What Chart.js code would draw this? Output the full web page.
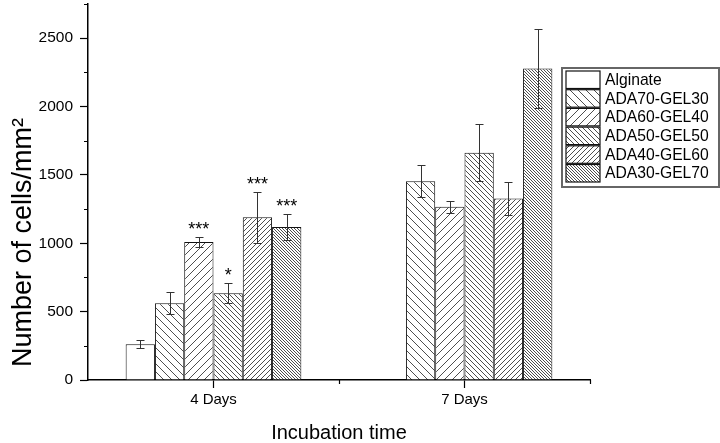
<!DOCTYPE html>
<html><head><meta charset="utf-8">
<script src="https://cdn.jsdelivr.net/npm/chart.js@4/dist/chart.umd.min.js"></script>
<style>html,body{margin:0;padding:0;background:#fff;}canvas{display:block;}</style>
</head><body>
<canvas id="c" width="720" height="443"></canvas>
<script>
// ---------- data ----------
const categories = ['4 Days', '7 Days'];
const seriesNames = ['Alginate', 'ADA70-GEL30', 'ADA60-GEL40', 'ADA50-GEL50', 'ADA40-GEL60', 'ADA30-GEL70'];
const alginate = [262, null];
const ada70gel30 = [562, 1454];
const ada60gel40 = [1009, 1268];
const ada50gel50 = [635, 1662];
const ada40gel60 = [1190, 1327];
const ada30gel70 = [1119, 2278];
const alginateErr = [30, null];
const ada70gel30Err = [78, 115];
const ada60gel40Err = [38, 44];
const ada50gel50Err = [73, 210];
const ada40gel60Err = [187, 120];
const ada30gel70Err = [92, 287];
const alginateSig = ['', ''];
const ada70gel30Sig = ['', ''];
const ada60gel40Sig = ['***', ''];
const ada50gel50Sig = ['*', ''];
const ada40gel60Sig = ['***', ''];
const ada30gel70Sig = ['***', ''];
const yTicks = [0, 500, 1000, 1500, 2000, 2500];
const yMinorTicks = [250, 750, 1250, 1750, 2250, 2750];
const yMax = 2750;
const xTitle = 'Incubation time';
const yTitle = 'Number of cells/mm\u00B2';

const FONT = '"Liberation Sans", Arial, Helvetica, sans-serif';

// ---------- hatch patterns ----------
function makePattern(dir, s) {
  const t = document.createElement('canvas');
  t.width = s; t.height = s;
  const g = t.getContext('2d');
  g.fillStyle = '#fff';
  g.fillRect(0, 0, s, s);
  if (dir) {
    g.strokeStyle = '#3a3a3a';
    g.lineWidth = 0.9;
    g.beginPath();
    for (let k = -1; k <= 1; k++) {
      if (dir === '\\') { g.moveTo(k * s, 0); g.lineTo(k * s + s, s); }
      else { g.moveTo(k * s, s); g.lineTo(k * s + s, 0); }
    }
    g.stroke();
  }
  return g.createPattern(t, 'repeat');
}
const fills = [
  '#ffffff',
  makePattern('\\', 8),
  makePattern('/', 8),
  makePattern('\\', 5),
  makePattern('/', 5),
  makePattern('\\', 3)
];

const values = [alginate, ada70gel30, ada60gel40, ada50gel50, ada40gel60, ada30gel70];
const errors = [alginateErr, ada70gel30Err, ada60gel40Err, ada50gel50Err, ada40gel60Err, ada30gel70Err];
const sigs = [alginateSig, ada70gel30Sig, ada60gel40Sig, ada50gel50Sig, ada40gel60Sig, ada30gel70Sig];

const datasets = seriesNames.map((n, i) => ({
  label: n,
  data: values[i],
  backgroundColor: fills[i],
  borderColor: '#111',
  borderWidth: 1,
  borderSkipped: 'bottom',
  categoryPercentage: 0.7,
  barPercentage: 1.0
}));

// ---------- plugins ----------
const extras = {
  id: 'extras',
  afterDatasetsDraw(chart) {
    const ctx = chart.ctx;
    const y = chart.scales.y;
    ctx.save();
    // error bars + significance
    datasets.forEach((ds, i) => {
      const meta = chart.getDatasetMeta(i);
      meta.data.forEach((bar, j) => {
        const v = values[i][j], e = errors[i][j];
        if (v == null || e == null) return;
        const yt = Math.round(y.getPixelForValue(v + e)) + 0.5;
        const yb = Math.round(y.getPixelForValue(v - e)) + 0.5;
        const x = Math.round(bar.x) + 0.5;
        ctx.strokeStyle = '#333';
        ctx.lineWidth = 1;
        ctx.beginPath();
        ctx.moveTo(x, yt); ctx.lineTo(x, yb);
        ctx.moveTo(x - 4, yt); ctx.lineTo(x + 4, yt);
        ctx.moveTo(x - 4, yb); ctx.lineTo(x + 4, yb);
        ctx.stroke();
        const s = sigs[i][j];
        if (s) {
          ctx.fillStyle = '#000';
          ctx.font = '18px ' + FONT;
          ctx.textAlign = 'center';
          ctx.textBaseline = 'alphabetic';
          ctx.fillText(s, bar.x, yt - 3);
        }
      });
    });
    ctx.restore();
  },
  afterDraw(chart) {
    const ctx = chart.ctx;
    const x = chart.scales.x, y = chart.scales.y;
    const ca = chart.chartArea;
    ctx.save();
    // minor y ticks
    ctx.strokeStyle = '#000';
    ctx.lineWidth = 1.2;
    ctx.beginPath();
    yMinorTicks.forEach(v => {
      const py = Math.round(y.getPixelForValue(v)) + 0.5;
      ctx.moveTo(ca.left - 4, py); ctx.lineTo(ca.left, py);
    });
    // x boundary ticks
    const step = x.getPixelForValue(1) - x.getPixelForValue(0);
    for (let k = 1; k <= categories.length; k++) {
      const px = Math.round(x.getPixelForValue(k - 1) + step / 2) + 0.5;
      ctx.moveTo(px, ca.bottom); ctx.lineTo(px, ca.bottom + 4);
    }
    ctx.stroke();

    // axis titles
    ctx.fillStyle = '#000';
    ctx.font = '20px ' + FONT;
    ctx.textAlign = 'center';
    ctx.textBaseline = 'alphabetic';
    ctx.fillText(xTitle, (ca.left + ca.right) / 2, 439);
    ctx.save();
    ctx.translate(31, 367);
    ctx.rotate(-Math.PI / 2);
    ctx.font = '27px ' + FONT;
    ctx.textAlign = 'left';
    ctx.fillText(yTitle, 0, 0);
    ctx.restore();

    // legend
    const lx = 562, ly = 68, lw = 157, lh = 119;
    ctx.strokeStyle = '#666';
    ctx.lineWidth = 2;
    ctx.strokeRect(lx, ly, lw, lh);
    datasets.forEach((ds, i) => {
      const sy = 71 + i * 18.7;
      ctx.fillStyle = ds.backgroundColor;
      ctx.fillRect(566, sy, 34, 17.5);
      ctx.strokeStyle = '#111';
      ctx.lineWidth = 1.2;
      ctx.strokeRect(566, sy, 34, 17.5);
      ctx.fillStyle = '#000';
      ctx.font = '15.7px ' + FONT;
      ctx.textAlign = 'left';
      ctx.textBaseline = 'middle';
      ctx.fillText(ds.label, 605, sy + 9.5);
    });
    ctx.restore();
  }
};

new Chart(document.getElementById('c'), {
  type: 'bar',
  data: { labels: categories, datasets },
  options: {
    responsive: false,
    animation: false,
    devicePixelRatio: 1,
    layout: { padding: { left: 0, right: 130, top: 4, bottom: 0 } },
    plugins: { legend: { display: false }, tooltip: { enabled: false } },
    scales: {
      x: {
        offset: true,
        grid: { display: true, drawOnChartArea: false, offset: false, tickLength: 8, tickColor: '#000', tickWidth: 1.2 },
        border: { display: true, color: '#000', width: 1.5 },
        ticks: { color: '#000', font: { family: FONT, size: 15 }, padding: 3, maxRotation: 0 },
        afterFit(s) { s.height = 63; s.paddingLeft = 0; s.paddingRight = 0; }
      },
      y: {
        min: 0, max: yMax,
        afterBuildTicks(s) { s.ticks = yTicks.map(v => ({ value: v })); },
        grid: { display: true, drawOnChartArea: false, tickLength: 8, tickColor: '#000', tickWidth: 1.2 },
        border: { display: true, color: '#000', width: 1.5 },
        ticks: { color: '#000', font: { family: FONT, size: 15.5 }, padding: 7, callback: v => String(v) },
        afterFit(s) { s.width = 88; s.paddingTop = 0; s.paddingBottom = 0; }
      }
    }
  },
  plugins: [extras]
});
</script>
</body></html>
